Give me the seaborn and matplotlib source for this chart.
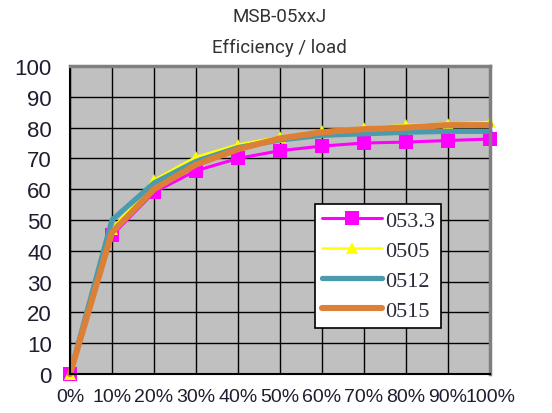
import pandas as pd
import matplotlib
matplotlib.use("Agg")
import matplotlib.pyplot as plt
import seaborn as sns

# ---- data ----
load_pct = [0, 10, 20, 30, 40, 50, 60, 70, 80, 90, 100]
eff_0533 = [0, 45, 59, 66, 70, 72.5, 74, 75, 75.3, 75.8, 76.3]
eff_0505 = [0, 47, 63, 70.5, 74.5, 77, 79, 80, 80.8, 81.3, 81.8]
eff_0512 = [0, 50, 62, 69, 73.5, 76, 77.5, 78, 78.5, 78.8, 78.8]
eff_0515 = [0, 46, 60, 68, 73, 76.5, 78.5, 79.5, 80, 80.8, 80.8]
x_ticks = [f"{v}%" for v in load_pct]
y_ticks = list(range(0, 101, 10))

series = [
    ("053.3", eff_0533, "#FF00FF", 2.2, "s", 10),
    ("0505", eff_0505, "#FFFF00", 1.8, "^", 8),
    ("0512", eff_0512, "#4A9BAE", 3.8, None, 0),
    ("0515", eff_0515, "#DC8038", 4.4, None, 0),
]

sns.set_style("white")

fig = plt.figure(figsize=(5.52, 4.14), dpi=100)
ax = fig.add_axes([70 / 552, 39 / 414, 420 / 552, 308 / 414])
ax.set_facecolor("#C0C0C0")

for name, vals, col, lw, mk, ms in series:
    df = pd.DataFrame({"load": load_pct, "eff": vals})
    sns.lineplot(data=df, x="load", y="eff", ax=ax, color=col, linewidth=lw,
                 marker=mk, markersize=ms, markeredgewidth=0,
                 label=name, solid_capstyle="round", clip_on=False)

ax.set_xlim(0, 100)
ax.set_ylim(0, 100)
ax.set_xticks(load_pct)
ax.set_xticklabels(x_ticks, fontfamily="Liberation Sans", fontsize=14, color="#1E1E30")
ax.set_yticks(y_ticks)
ax.set_yticklabels(y_ticks, fontfamily="Liberation Sans", fontsize=16, color="#1E1E30")
ax.tick_params(axis="x", length=0, pad=10)
ax.tick_params(axis="y", length=0, pad=13)
ax.set_xlabel("")
ax.set_ylabel("")

ax.grid(True, color="black", linewidth=1.0)
ax.set_axisbelow(True)
for side in ["left", "bottom"]:
    ax.spines[side].set_color("black")
    ax.spines[side].set_linewidth(1.5)
for side in ["top", "right"]:
    ax.spines[side].set_color("#7F7F7F")
    ax.spines[side].set_linewidth(2.5)

leg = ax.legend(loc="upper left", bbox_to_anchor=(0.583, 0.552), frameon=True,
                fancybox=False, framealpha=1, edgecolor="black", facecolor="white",
                prop={"family": "Liberation Serif", "size": 16},
                handlelength=2.7, handletextpad=0.15, labelspacing=0.42,
                borderpad=0.3, borderaxespad=0)
leg.get_frame().set_linewidth(1.2)
for t in leg.get_texts():
    t.set_color("#2B2B3B")

fig.text(0.507, 0.959, "MSB-05xxJ", ha="center", va="center",
         fontfamily="Roboto", fontsize=13.5, color="#333333")
fig.text(0.507, 0.884, "Efficiency / load", ha="center", va="center",
         fontfamily="Roboto", fontsize=13.5, color="#333333")

fig.savefig("out.png", dpi=100)
